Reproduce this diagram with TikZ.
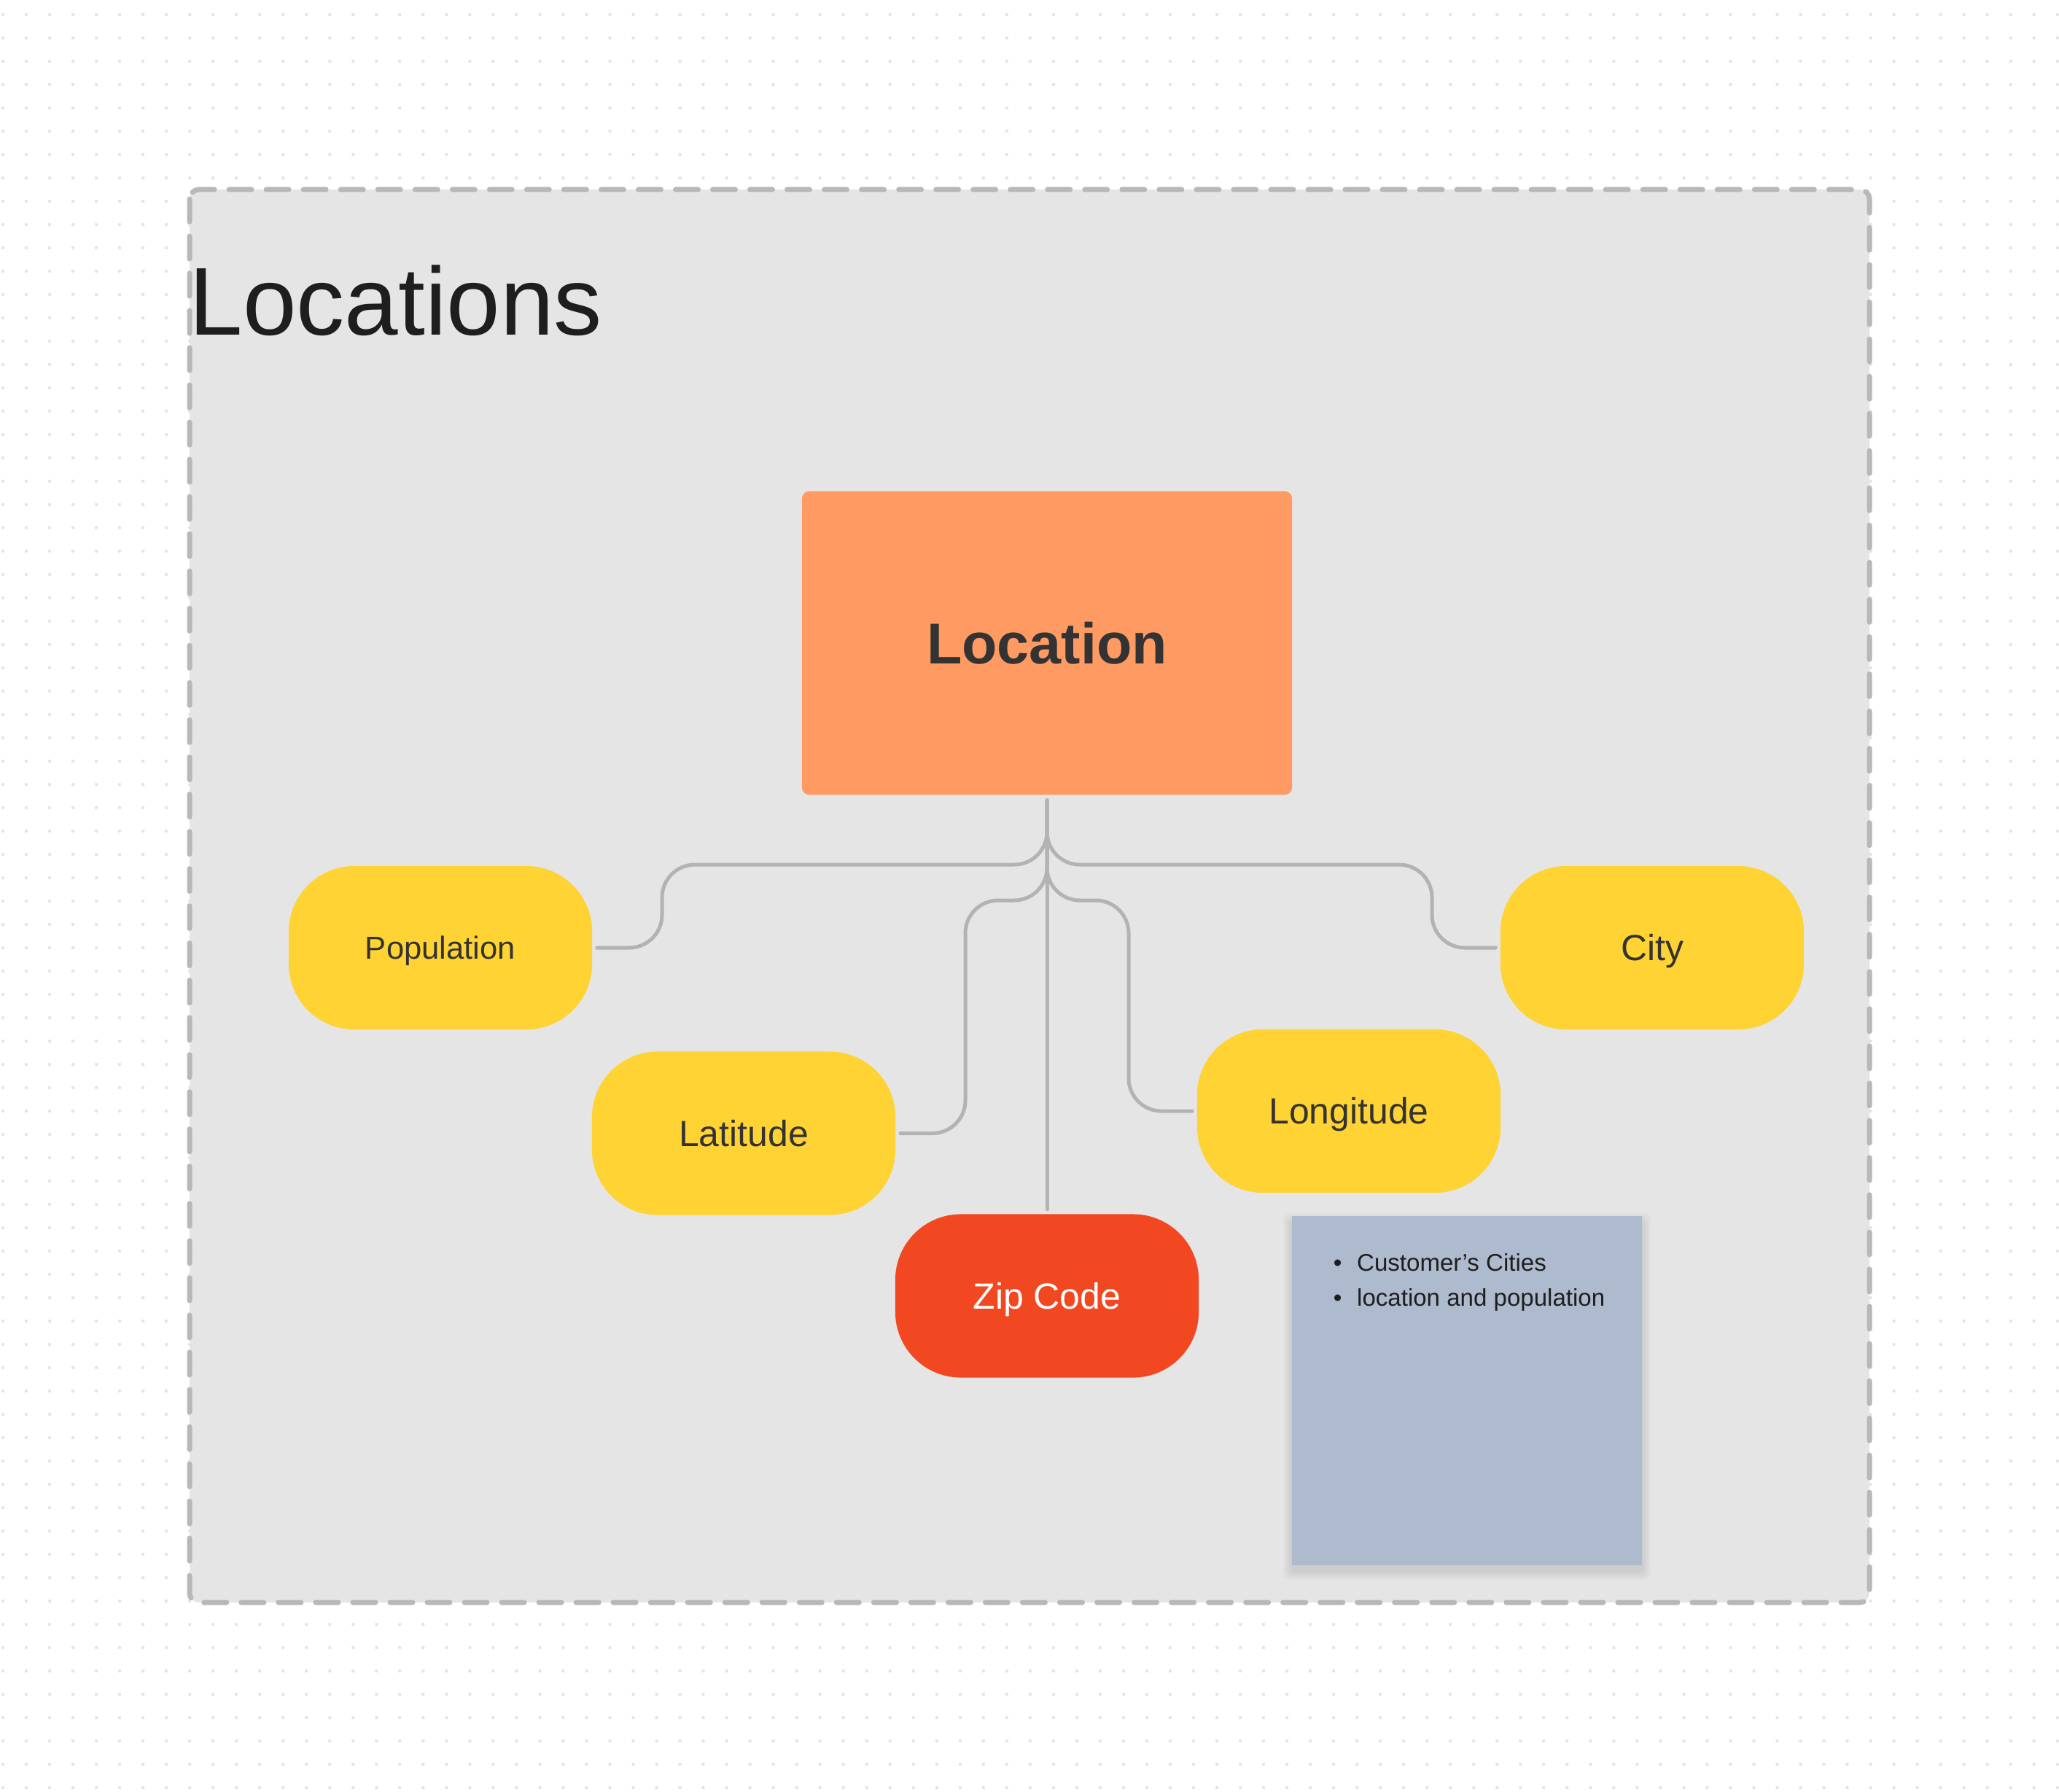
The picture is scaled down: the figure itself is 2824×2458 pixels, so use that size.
\documentclass[tikz,border=0pt]{standalone}
\usepackage{fontspec}
\setmainfont{Liberation Sans}
\usetikzlibrary{positioning}
\definecolor{figpaper}{HTML}{FFFFFF}
\definecolor{figdot}{HTML}{E4E4E4}
\definecolor{figsection}{HTML}{E5E5E5}
\definecolor{figdash}{HTML}{B8B8B8}
\definecolor{figorange}{HTML}{FF9B62}
\definecolor{figyellow}{HTML}{FFD333}
\definecolor{figred}{HTML}{F24822}
\definecolor{fignote}{HTML}{AEBBCF}
\definecolor{figwire}{HTML}{B3B3B3}
\definecolor{figtext}{HTML}{333333}
\definecolor{figink}{HTML}{1E1E1E}

\tikzset{
  attr/.style={fill=figyellow, rounded corners=0.9cm, minimum width=4.16cm, minimum height=2.24cm,
    inner sep=0pt, text=figtext, font=\fontsize{14.2}{17}\selectfont, text height=10.2pt, text depth=0pt},
  wire/.style={draw=figwire, line width=0.05cm, line cap=round, rounded corners=0.45cm,
    shorten <=0.07cm, shorten >=0.06cm},
}

\begin{document}
\begin{tikzpicture}[x=0.01cm, y=-0.01cm]
    \useasboundingbox (0,0) rectangle (2824,2458);
    \fill[figpaper] (0,0) rectangle (2824,2458);
    % dot grid of the canvas
    \foreach \gy in {20,52,...,2452}
      \draw[figdot, line width=0.045cm, line cap=round, dash pattern=on 0pt off 0.32cm] (4,\gy) -- (2824,\gy);
    % section
    \draw[figdash, fill=figsection, line width=0.07cm, line cap=round, rounded corners=0.13cm,
      dash pattern=on 0.31cm off 0.2cm] (260,260) rectangle (2564,2198);
    \node[anchor=base west, inner sep=0pt, text=figink, font=\fontsize{37.6}{44}\selectfont] (title) at (259,460) {Locations};
    % entity and attributes
    \node[fill=figorange, rounded corners=0.1cm, minimum width=6.72cm, minimum height=4.16cm, inner sep=0pt,
      text=figtext, font=\bfseries\fontsize{22.5}{27}\selectfont, text height=16pt, text depth=0pt] (loc) at (1436,882) {Location};
    \node[attr, font=\fontsize{12.4}{15}\selectfont, text height=8.9pt] (pop) at (604,1300) {Population};
    \node[attr] (city) at (2266,1300) {City};
    \node[attr] (lat) at (1020,1554.5) {Latitude};
    \node[attr] (lon) at (1850,1524) {Longitude};
    \node[attr, fill=figred, text=white] (zip) at (1436,1777.5) {Zip Code};
    \draw[wire] (loc.south) |- (908,1186) |- (pop.east);
    \draw[wire] (loc.south) |- (1964,1186) |- (city.west);
    \draw[wire] (loc.south) |- (1324,1235) |- (lat.east);
    \draw[wire] (loc.south) |- (1548,1235) |- (lon.west);
    \draw[wire] (loc.south) -- (zip.north);
    % sticky note with a soft shadow
    \foreach \gs in {2,4,...,12}
      \fill[black, opacity=0.014, rounded corners=0.08cm] (1772-\gs,1676-\gs) rectangle (2252+\gs,2155+\gs);
    \node[fill=fignote, minimum width=4.8cm, minimum height=4.79cm, inner sep=0pt] (note) at (2012,1907.5) {};
    \node[anchor=north west, inner sep=0pt, align=left, text=figink, font=\fontsize{9.4}{13.66}\selectfont] (notetext)
      at ([xshift=0.57cm, yshift=-0.515cm]note.north west)
      {\textbullet\hspace{5.9pt}Customer’s Cities\\ \textbullet\hspace{5.9pt}location and population};
\end{tikzpicture}
\end{document}
